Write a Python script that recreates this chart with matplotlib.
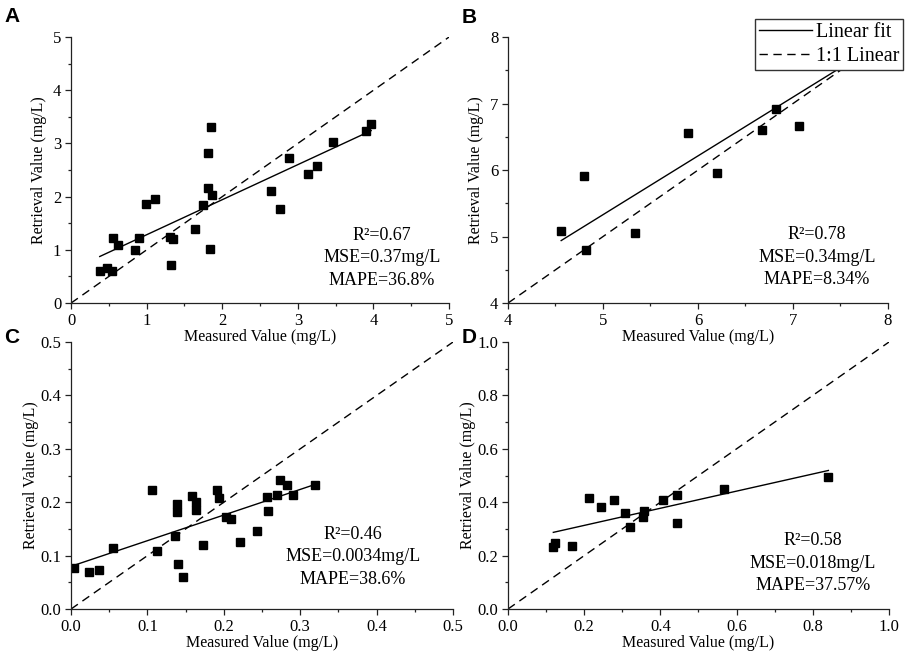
import numpy as np
import matplotlib
matplotlib.use('Agg')
import matplotlib.pyplot as plt
from matplotlib.ticker import MultipleLocator, AutoMinorLocator

plt.rcParams['font.family'] = ['Liberation Serif', 'DejaVu Serif']

# panel A
a_meas = [0.38, 0.47, 0.54, 0.55, 0.62, 0.85, 0.90, 0.99, 1.11, 1.31, 1.35, 1.32, 1.64, 1.74,
          1.81, 1.85, 1.81, 1.87, 1.84, 2.65, 2.76, 2.88, 3.13, 3.26, 3.47, 3.90, 3.97]
a_retr = [0.61, 0.65, 0.61, 1.22, 1.10, 1.00, 1.23, 1.87, 1.96, 1.24, 1.20, 0.71, 1.40, 1.84,
          2.83, 3.31, 2.16, 2.03, 1.02, 2.11, 1.76, 2.73, 2.43, 2.57, 3.02, 3.23, 3.36]
a_fit = [0.659, 0.625]

# panel B
b_meas = [4.56, 4.80, 4.82, 5.34, 5.89, 6.20, 6.67, 6.82, 7.06]
b_retr = [5.08, 5.91, 4.80, 5.05, 6.56, 5.96, 6.60, 6.92, 6.66]
b_fit = [0.884, 0.909]

# panel C
c_meas = [0.004, 0.023, 0.036, 0.055, 0.106, 0.112, 0.136, 0.139, 0.139, 0.140, 0.147, 0.159,
          0.164, 0.164, 0.173, 0.191, 0.194, 0.203, 0.210, 0.221, 0.244, 0.256, 0.258, 0.269,
          0.273, 0.283, 0.290, 0.320]
c_retr = [0.076, 0.069, 0.074, 0.114, 0.222, 0.109, 0.136, 0.196, 0.181, 0.084, 0.060, 0.212,
          0.200, 0.185, 0.119, 0.222, 0.208, 0.172, 0.169, 0.126, 0.146, 0.210, 0.183, 0.213,
          0.241, 0.233, 0.214, 0.232]
c_fit = [0.48, 0.080]

# panel D
d_meas = [0.119, 0.123, 0.168, 0.212, 0.244, 0.277, 0.308, 0.320, 0.354, 0.358, 0.408, 0.444,
          0.444, 0.566, 0.841]
d_retr = [0.234, 0.246, 0.236, 0.414, 0.384, 0.410, 0.361, 0.306, 0.344, 0.367, 0.410, 0.427,
          0.324, 0.449, 0.496]
d_fit = [0.321, 0.249]

panels = [
    dict(tag='A', x=a_meas, y=a_retr, fit=a_fit, lim=(0, 5), step=1, fmt='%d',
         fitx=(min(a_meas), max(a_meas)), ylx=-0.063,
         stats='R\u00b2=0.67\nMSE=0.37mg/L\nMAPE=36.8%', tpos=(0.823, 0.17),
         rect=[0.0784, 0.538, 0.4172, 0.4055]),
    dict(tag='B', x=b_meas, y=b_retr, fit=b_fit, lim=(4, 8), step=1, fmt='%d',
         fitx=(min(b_meas), 7.6), ylx=-0.063,
         stats='R\u00b2=0.78\nMSE=0.34mg/L\nMAPE=8.34%', tpos=(0.813, 0.173),
         rect=[0.5607, 0.538, 0.4194, 0.4055]),
    dict(tag='C', x=c_meas, y=c_retr, fit=c_fit, lim=(0, 0.5), step=0.1, fmt='%.1f',
         fitx=(0.0, max(c_meas)), ylx=-0.083,
         stats='R\u00b2=0.46\nMSE=0.0034mg/L\nMAPE=38.6%', tpos=(0.738, 0.195),
         rect=[0.0784, 0.0716, 0.4216, 0.407]),
    dict(tag='D', x=d_meas, y=d_retr, fit=d_fit, lim=(0, 1.0), step=0.2, fmt='%.1f',
         fitx=(min(d_meas), max(d_meas)), ylx=-0.083,
         stats='R\u00b2=0.58\nMSE=0.018mg/L\nMAPE=37.57%', tpos=(0.80, 0.172),
         rect=[0.5607, 0.0716, 0.4205, 0.407]),
]

fig = plt.figure(figsize=(9.06, 6.56), dpi=100)

tag_pos = {'A': (0.005, 0.99), 'B': (0.509, 0.988), 'C': (0.005, 0.5), 'D': (0.509, 0.5)}

for p in panels:
    ax = fig.add_axes(p['rect'])
    ax.patch.set_visible(False)
    lo, hi = p['lim']
    xs = np.array(p['fitx'])
    ax.plot([lo, hi], [lo, hi], color='black', lw=1.0, ls=(0, (6, 4)), label='1:1 Linear')
    ax.plot(xs, p['fit'][0] * xs + p['fit'][1], color='black', lw=1.0, label='Linear fit')
    ax.plot(p['x'], p['y'], 's', color='black', ms=5.5, ls='none')
    ax.set_xlim(lo, hi)
    ax.set_ylim(lo, hi)
    for s in ['top', 'right']:
        ax.spines[s].set_visible(False)
    for s in ['left', 'bottom']:
        ax.spines[s].set_linewidth(0.9)
        ax.spines[s].set_color('#222222')
    ax.xaxis.set_major_locator(MultipleLocator(p['step']))
    ax.yaxis.set_major_locator(MultipleLocator(p['step']))
    ax.xaxis.set_minor_locator(AutoMinorLocator(2))
    ax.yaxis.set_minor_locator(AutoMinorLocator(2))
    ax.xaxis.set_major_formatter(matplotlib.ticker.FormatStrFormatter(p['fmt']))
    ax.yaxis.set_major_formatter(matplotlib.ticker.FormatStrFormatter(p['fmt']))
    ax.tick_params(which='major', direction='out', length=4, width=0.9, labelsize=12, pad=3,
                   color='#222222')
    ax.tick_params(which='minor', direction='out', length=2.5, width=0.9, color='#222222')
    ax.set_xlabel('Measured Value (mg/L)', fontsize=11.5)
    ax.xaxis.set_label_coords(0.5, -0.097)
    ax.set_ylabel('Retrieval Value (mg/L)', fontsize=11.5)
    ax.yaxis.set_label_coords(p['ylx'], 0.5)
    ax.text(p['tpos'][0], p['tpos'][1], p['stats'], transform=ax.transAxes, ha='center',
            va='center', fontsize=13, linespacing=1.4)
    fig.text(tag_pos[p['tag']][0], tag_pos[p['tag']][1], p['tag'], fontsize=15,
             fontweight='bold', family='Liberation Sans', ha='left', va='top')
    if p['tag'] == 'B':
        h, l = ax.get_legend_handles_labels()
        fig.legend([h[1], h[0]], [l[1], l[0]], loc='upper right',
                   bbox_to_anchor=(903 / 906, 1 - 19 / 656), borderaxespad=0,
                   fontsize=14.5, fancybox=False, framealpha=1, edgecolor='#333333',
                   handlelength=2.6, borderpad=0.2, labelspacing=0.25, handletextpad=0.2)

fig.savefig('out.png', dpi=100)
